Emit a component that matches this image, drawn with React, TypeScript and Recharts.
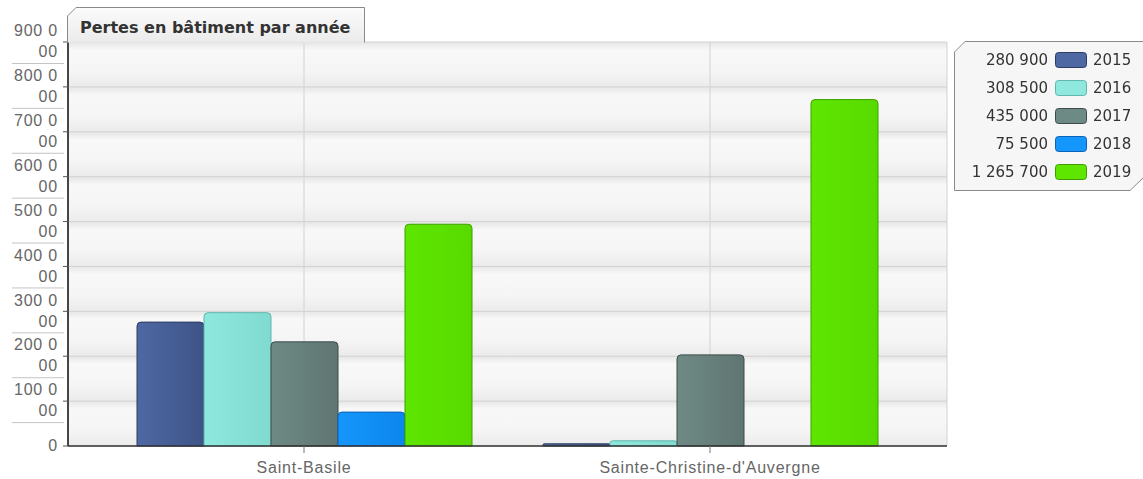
import React from "react";
import { BarChart, Bar, XAxis, YAxis, CartesianGrid } from "recharts";

const villes = ["Saint-Basile", "Sainte-Christine-d'Auvergne"];
const annees = ["2015", "2016", "2017", "2018", "2019"];
const pertes2015 = [276000, 4900];
const pertes2016 = [297000, 11500];
const pertes2017 = [232000, 203000];
const pertes2018 = [75500, 0];
const pertes2019 = [494000, 771700];
const yTicks = [0, 100000, 200000, 300000, 400000, 500000, 600000, 700000, 800000, 900000];

const series = [pertes2015, pertes2016, pertes2017, pertes2018, pertes2019];
const fills = [
  { light: "#4e68a3", dark: "#3e5488", stroke: "#2c3c64" },
  { light: "#8ee8de", dark: "#80dacf", stroke: "#5fb7ad" },
  { light: "#6e8a85", dark: "#5f7571", stroke: "#3c4c49" },
  { light: "#1596fb", dark: "#0b86ec", stroke: "#0a63b8" },
  { light: "#5ee600", dark: "#58da00", stroke: "#3ea000" },
];

const data = villes.map((ville, i) => {
  const row: Record<string, string | number> = { ville };
  annees.forEach((a, k) => (row[a] = series[k][i]));
  return row;
});

const totals = series.map((s) => s.reduce((a, b) => a + b, 0));
const fmt = (v: number) => v.toLocaleString("fr-FR").replace(/\s/g, " ");

const font = "'DejaVu Sans', Verdana, sans-serif";
const axisFont = "'Liberation Sans', Arial, sans-serif";

function YTick(props: any) {
  const { x, y, payload } = props;
  const s = fmt(payload.value);
  const first = s.slice(0, 5);
  const second = s.slice(5);
  const textProps = {
    textAnchor: "end" as const,
    dominantBaseline: "middle" as const,
    fill: "#666",
    fontSize: 16,
    fontFamily: axisFont,
    letterSpacing: 0.8,
  };
  return (
    <g>
      <line x1={x + 3} x2={x + 9} y1={y} y2={y} stroke="#555" />
      {second ? (
        <>
          <text x={x - 2} y={y - 10} {...textProps}>
            {first}
          </text>
          <text x={x - 2} y={y + 11} {...textProps}>
            {second}
          </text>
          <line x1={12} x2={x + 4} y1={y + 21.5} y2={y + 21.5} stroke="#c4c4c4" />
        </>
      ) : (
        <text x={x - 2} y={y + 1} {...textProps}>
          {first}
        </text>
      )}
    </g>
  );
}

function Title() {
  return (
    <svg width={300} height={36} style={{ position: "absolute", left: 67, top: 7 }}>
      <defs>
        <linearGradient id="titleGrad" x1="0" y1="0" x2="0" y2="1">
          <stop offset="0%" stopColor="#fbfbfb" />
          <stop offset="100%" stopColor="#ebebeb" />
        </linearGradient>
      </defs>
      <path d="M0.5 35.5 L0.5 9 L9 0.5 L297.5 0.5 L297.5 35.5" fill="url(#titleGrad)" stroke="#8a8a8a" />
      <text x={13} y={21} dominantBaseline="middle" fontFamily={font} fontWeight="bold" fontSize={16} fill="#333">
        Pertes en bâtiment par année
      </text>
    </svg>
  );
}

function LegendBox() {
  return (
    <svg width={192} height={152} style={{ position: "absolute", left: 953, top: 40 }}>
      <path d="M1.5 12 L12 1.5 L191 1.5 L191 137 L177 150.5 L1.5 150.5 Z" fill="#f6f6f6" stroke="#8a8a8a" />
      {annees.map((a, k) => {
        const cy = 20 + k * 28;
        return (
          <g key={a}>
            <text x={95} y={cy} textAnchor="end" dominantBaseline="middle" fontFamily={font} fontSize={15} fill="#333">
              {fmt(totals[k])}
            </text>
            <rect x={102.5} y={cy - 7.5} width={31} height={15} rx={3} fill={fills[k].light} stroke={fills[k].stroke} />
            <text x={140} y={cy} dominantBaseline="middle" fontFamily={font} fontSize={15} fill="#333">
              {a}
            </text>
          </g>
        );
      })}
    </svg>
  );
}

export default function App() {
  return (
    <div style={{ position: "fixed", left: 0, top: 0, width: 1143, height: 479, background: "#fff" }}>
      <svg width={0} height={0} style={{ position: "absolute" }}>
        <defs>
          <linearGradient id="bandGrad" x1="0" y1="0" x2="0" y2="1">
            <stop offset="0%" stopColor="#e6e6e6" />
            <stop offset="18%" stopColor="#f8f8f8" />
            <stop offset="65%" stopColor="#f5f5f5" />
            <stop offset="100%" stopColor="#ebebeb" />
          </linearGradient>
          {fills.map((f, k) => (
            <linearGradient key={k} id={`barGrad${k}`} x1="0" y1="0" x2="1" y2="0">
              <stop offset="0%" stopColor={f.light} />
              <stop offset="100%" stopColor={f.dark} />
            </linearGradient>
          ))}
        </defs>
      </svg>
      <BarChart
        width={1143}
        height={479}
        data={data}
        margin={{ top: 42, right: 196, bottom: 0, left: 0 }}
        barCategoryGap={36}
        barGap={0}
      >
        <CartesianGrid stroke="#d2d2d2" horizontalFill={["url(#bandGrad)"]} />
        <XAxis
          dataKey="ville"
          height={33}
          padding={{ left: 33, right: 34 }}
          axisLine={{ stroke: "#333", strokeWidth: 1.5 }}
          tickLine={{ stroke: "#777" }}
          tickSize={7}
          tick={{ fill: "#666", fontSize: 16, fontFamily: axisFont, letterSpacing: 0.8 }}
          tickMargin={9}
        />
        <YAxis
          width={68}
          domain={[0, 900000]}
          ticks={yTicks}
          interval={0}
          axisLine={{ stroke: "#111", strokeWidth: 1.5 }}
          tickLine={false}
          tick={<YTick />}
        />
        {annees.map((a, k) => (
          <Bar
            key={a}
            dataKey={a}
            fill={`url(#barGrad${k})`}
            stroke={fills[k].stroke}
            radius={[4, 4, 0, 0]}
            isAnimationActive={false}
          />
        ))}
      </BarChart>
      <Title />
      <LegendBox />
    </div>
  );
}
